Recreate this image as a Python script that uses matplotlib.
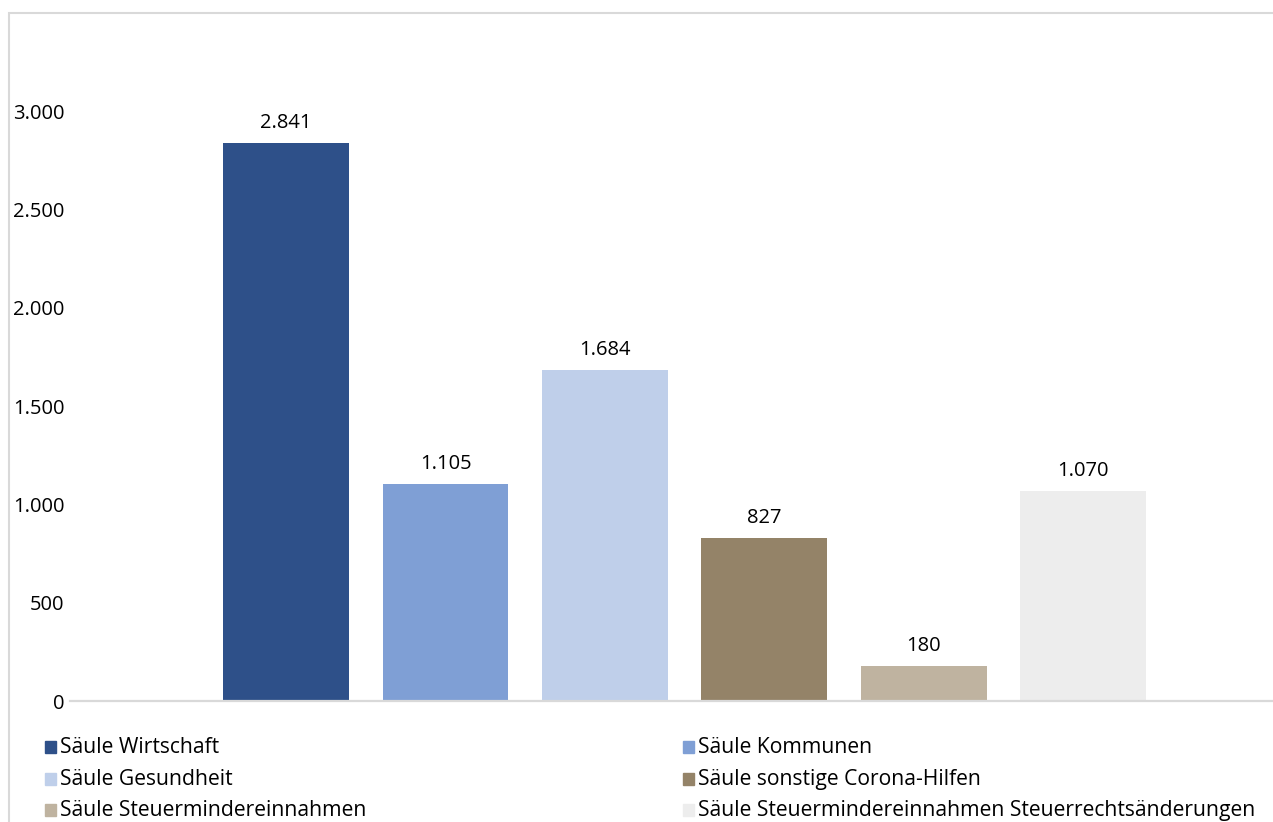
import numpy as np
import matplotlib
matplotlib.use("Agg")
import matplotlib.pyplot as plt
from matplotlib.patches import Rectangle
from matplotlib.ticker import FuncFormatter

# ==============================
# Daten
# ==============================
serien = ["Säule Wirtschaft", "Säule Kommunen", "Säule Gesundheit",
          "Säule sonstige Corona-Hilfen", "Säule Steuermindereinnahmen",
          "Säule Steuermindereinnahmen Steuerrechtsänderungen"]
werte = [2841, 1105, 1684, 827, 180, 1070]
farben = ["#2e5089", "#7f9fd5", "#bfcfea", "#948368", "#bfb3a0", "#ededed"]
y_ticks = [0, 500, 1000, 1500, 2000, 2500, 3000]

plt.rcParams['font.family'] = ['Open Sans', 'DejaVu Sans']

W, H = 1273, 822
fig = plt.figure(figsize=(W / 100, H / 100), dpi=100)

# Rahmen um das Diagramm (rechts und unten abgeschnitten)
fig.patches.append(Rectangle((9 / W, -0.1), 1.2, 1.1 - 13 / H, transform=fig.transFigure,
                             fill=False, edgecolor="#d9d9d9", linewidth=1.5))

ax = fig.add_axes([70 / W, 1 - 701 / H, 1 - 70 / W, (701 - 13) / H])

x = np.arange(len(werte))
ax.bar(x, werte, width=0.79, color=farben)

fmt = lambda v: f"{v:,.0f}".replace(",", ".")
for xi, v in zip(x, werte):
    ax.annotate(fmt(v), (xi, v), xytext=(0, 10.8), textcoords="offset points",
                ha="center", va="baseline", fontsize=14.5)

ax.set_xlim(-1.355, 6.19)
ax.set_ylim(0, 3500)
ax.set_yticks(y_ticks)
ax.yaxis.set_major_formatter(FuncFormatter(lambda v, p: fmt(v)))
ax.tick_params(axis="y", length=0, labelsize=14.5, pad=4)
ax.set_xticks([])
for s in ["top", "right", "left"]:
    ax.spines[s].set_visible(False)
ax.spines["bottom"].set_color("#d9d9d9")
ax.spines["bottom"].set_linewidth(1.6)

# Legende (zwei Spalten)
leg_x = [45, 683]
leg_base = [753, 785, 816]
for i, (name, col) in enumerate(zip(serien, farben)):
    lx = leg_x[i % 2]
    ly = leg_base[i // 2]
    fig.patches.append(Rectangle((lx / W, 1 - ly / H), 11 / W, 12 / H,
                                 transform=fig.transFigure, color=col))
    fig.text((lx + 15) / W, 1 - ly / H, name, fontsize=15.2, va="baseline", ha="left")

plt.savefig("out.png", dpi=100)
